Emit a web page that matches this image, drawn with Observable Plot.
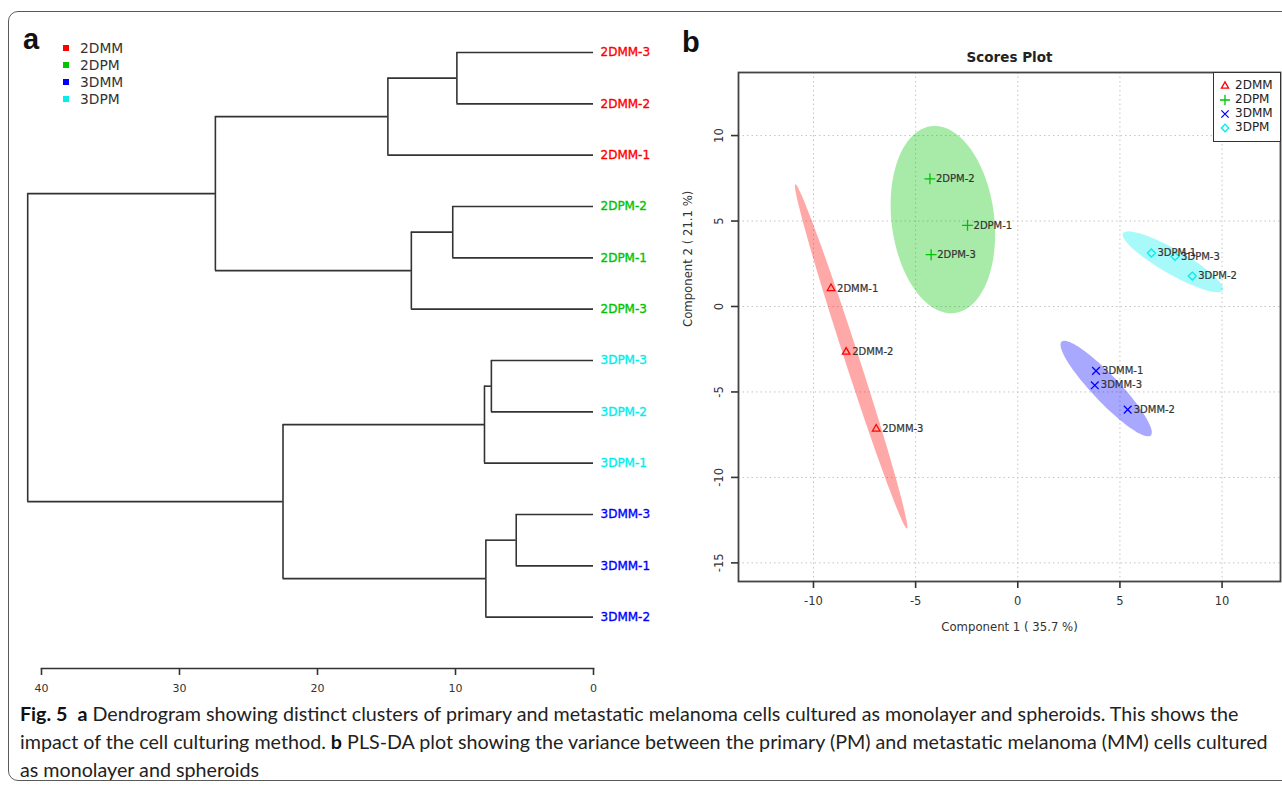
<!DOCTYPE html>
<html>
<head>
<meta charset="utf-8">
<script src="https://cdn.jsdelivr.net/npm/d3@7"></script>
<script src="https://cdn.jsdelivr.net/npm/@observablehq/plot@0.6"></script>
<style>
  html, body { margin: 0; padding: 0; background: #fff; }
  body { width: 1282px; height: 787px; overflow: hidden; position: relative; font-family: "DejaVu Sans", sans-serif; }
  #frame { position: absolute; left: 8px; top: 11px; width: 1300px; height: 770px; border: 1.5px solid #5a5a5a; border-radius: 10px; box-sizing: border-box; }
  .abs { position: absolute; }
  .plabel { position: absolute; font-family: "Liberation Sans", Arial, sans-serif; font-weight: bold; font-size: 29px; line-height: 28px; color: #111; }
  #legendA .item { position: absolute; left: 0; font-size: 13.8px; color: #333; line-height: 16px; white-space: nowrap; }
  #legendA .sw { position: absolute; width: 6px; height: 6px; }
  #legendB { position: absolute; left: 1213px; top: 72px; width: 68px; height: 70px; border: 1.5px solid #333; background: #fff; box-sizing: border-box; }
  #legendB .item { position: absolute; font-size: 12px; color: #222; line-height: 14px; white-space: nowrap; }
  #caption { position: absolute; left: 20px; top: 700px; font-family: Lato, "Noto Sans", sans-serif; font-size: 19.7px; line-height: 28px; color: #222; white-space: nowrap; }
  #caption b { color: #111; }
</style>
</head>
<body>
<div id="frame"></div>
<div id="panelA" class="abs" style="left:0px;top:0px"></div>
<div id="panelB" class="abs" style="left:660px;top:30px"></div>
<div class="plabel" style="left:23px;top:25px">a</div>
<div class="plabel" style="left:682px;top:28px">b</div>
<div id="legendA" class="abs" style="left:62px;top:40px"></div>
<div id="legendB"></div>
<div id="caption"><b>Fig. 5</b>&nbsp; <b>a</b> Dendrogram showing distinct clusters of primary and metastatic melanoma cells cultured as monolayer and spheroids. This shows the<br>impact of the cell culturing method. <b>b</b> PLS-DA plot showing the variance between the primary (PM) and metastatic melanoma (MM) cells cultured<br>as monolayer and spheroids</div>

<script>
// ---------- Data ----------
const groups = ["2DMM", "2DPM", "3DMM", "3DPM"];
const groupColors = ["#ff0000", "#00c400", "#0000ff", "#00eeee"];

// Dendrogram (panel a)
const leaves = ["2DMM-3", "2DMM-2", "2DMM-1", "2DPM-2", "2DPM-1", "2DPM-3",
                "3DPM-3", "3DPM-2", "3DPM-1", "3DMM-3", "3DMM-1", "3DMM-2"];
// merge i creates node "m{i+1}"
const mergeA = ["2DMM-3", "m1", "2DPM-2", "m3", "m2", "3DPM-3", "m6", "3DMM-3", "m8", "m7", "m5"];
const mergeB = ["2DMM-2", "2DMM-1", "2DPM-1", "2DPM-3", "m4", "3DPM-2", "3DPM-1", "3DMM-1", "3DMM-2", "m9", "m10"];
const mergeHeight = [9.9, 14.9, 10.2, 13.2, 27.4, 7.4, 7.9, 5.6, 7.8, 22.5, 41.0];
const dendroTicks = [40, 30, 20, 10, 0];

// Scores plot (panel b)
const sampleNames = ["2DMM-1", "2DMM-2", "2DMM-3", "2DPM-1", "2DPM-2", "2DPM-3",
                     "3DMM-1", "3DMM-2", "3DMM-3", "3DPM-1", "3DPM-2", "3DPM-3"];
const comp1 = [-9.14, -8.40, -6.93, -2.46, -4.30, -4.24, 3.83, 5.38, 3.77, 6.54, 8.54, 7.70];
const comp2 = [1.06, -2.66, -7.16, 4.75, 7.47, 3.03, -3.77, -6.03, -4.61, 3.13, 1.78, 2.93];
const scoreTicksX = [-10, -5, 0, 5, 10];
const scoreTicksY = [-15, -10, -5, 0, 5, 10];
const groupSymbols = ["triangle2", "plus", "times", "diamond2"];
const xLabel = "Component 1 ( 35.7 %)";
const yLabel = "Component 2 ( 21.1 %)";
const plotTitle = "Scores Plot";

const groupOf = name => name.slice(0, name.lastIndexOf("-"));

// ---------- Panel a: dendrogram ----------
const pos = {};
leaves.forEach((l, i) => pos[l] = {h: 0, y: i});
const verticals = [], horizontals = [];
mergeHeight.forEach((h, i) => {
  const a = pos[mergeA[i]], b = pos[mergeB[i]];
  pos["m" + (i + 1)] = {h, y: (a.y + b.y) / 2};
  verticals.push({x: h, y1: a.y, y2: b.y});
  horizontals.push({y: a.y, x1: h, x2: a.h});
  horizontals.push({y: b.y, x1: h, x2: b.h});
});
const leafData = leaves.map((name, i) => ({name, i, group: groupOf(name)}));

const dendro = Plot.plot({
  width: 660, height: 700,
  marginLeft: 41, marginRight: 67, marginTop: 52, marginBottom: 32,
  style: {background: "transparent", overflow: "visible", fontFamily: "DejaVu Sans, sans-serif"},
  x: {domain: [40, 0]},
  y: {domain: [0, 12], reverse: true, axis: null},
  color: {domain: groups, range: groupColors},
  marks: [
    Plot.ruleY(horizontals, {y: "y", x1: "x1", x2: "x2", stroke: "#333", strokeWidth: 1.6}),
    Plot.ruleX(verticals, {x: "x", y1: "y1", y2: "y2", stroke: "#333", strokeWidth: 1.6}),
    Plot.text(leafData, {x: () => 0, y: "i", text: "name", fill: "group", stroke: "group", strokeWidth: 0.35, dx: 7, textAnchor: "start", fontSize: 12}),
    Plot.frame({anchor: "bottom", stroke: "#333", strokeWidth: 1.6}),
    Plot.axisX({ticks: dendroTicks, tickSize: 7, tickPadding: 9, tickFormat: d => String(d), label: null, fontSize: 11, color: "#333", strokeWidth: 1.6})
  ]
});
document.getElementById("panelA").appendChild(dendro);

// legend a
const legA = document.getElementById("legendA");
groups.forEach((g, i) => {
  const sw = document.createElement("div");
  sw.className = "sw";
  sw.style.left = "1px";
  sw.style.top = (5 + i * 17) + "px";
  sw.style.background = groupColors[i];
  legA.appendChild(sw);
  const it = document.createElement("div");
  it.className = "item";
  it.style.left = "18px";
  it.style.top = (0 + i * 17) + "px";
  it.textContent = g;
  legA.appendChild(it);
});

// ---------- Panel b: scores plot ----------
const points = sampleNames.map((name, i) => ({name, group: groupOf(name), x: comp1[i], y: comp2[i]}));

// 95% confidence ellipse per group (as in R's ellipse package)
const tq = Math.sqrt(-2 * Math.log(1 - 0.95));
const ellipses = [];
groups.forEach(g => {
  const pts = points.filter(p => p.group === g);
  const n = pts.length;
  const mx = d3.mean(pts, p => p.x), my = d3.mean(pts, p => p.y);
  const vx = d3.sum(pts, p => (p.x - mx) ** 2) / (n - 1);
  const vy = d3.sum(pts, p => (p.y - my) ** 2) / (n - 1);
  const cxy = d3.sum(pts, p => (p.x - mx) * (p.y - my)) / (n - 1);
  const sx = Math.sqrt(vx), sy = Math.sqrt(vy);
  const r = Math.max(-1, Math.min(1, cxy / (sx * sy)));
  const d = Math.acos(r);
  for (let k = 0; k < 100; k++) {
    const a = 2 * Math.PI * k / 100;
    ellipses.push({group: g, x: tq * sx * Math.cos(a + d / 2) + mx, y: tq * sy * Math.cos(a - d / 2) + my});
  }
});

const scores = Plot.plot({
  width: 622, height: 620,
  marginLeft: 78, marginRight: 2, marginTop: 42, marginBottom: 69,
  style: {background: "transparent", overflow: "visible", fontFamily: "DejaVu Sans, sans-serif"},
  x: {domain: [-13.67, 12.86]},
  y: {domain: [-16.09, 13.69], axis: null},
  color: {domain: groups, range: groupColors},
  symbol: {domain: groups, range: groupSymbols},
  marks: [
    Plot.gridX(scoreTicksX, {stroke: "#c4c4c4", strokeOpacity: 1, strokeDasharray: "1.5,3"}),
    Plot.gridY(scoreTicksY, {stroke: "#c4c4c4", strokeOpacity: 1, strokeDasharray: "1.5,3"}),
    Plot.line(ellipses, {x: "x", y: "y", z: "group", fill: "group", fillOpacity: 0.34, stroke: "none", curve: "linear-closed"}),
    Plot.dot(points, {x: "x", y: "y", symbol: "group", stroke: "group", fill: "none", r: 3.6, strokeWidth: 1.3}),
    Plot.text(points, {x: "x", y: "y", text: "name", dx: 6, textAnchor: "start", fontSize: 10, fill: "#333", stroke: "#333", strokeWidth: 0.2}),
    Plot.frame({stroke: "#444", strokeWidth: 1.8}),
    Plot.axisX({ticks: scoreTicksX, tickSize: 7, tickPadding: 8, tickFormat: d => String(d), label: null, fontSize: 11.5, color: "#333", strokeWidth: 1.6}),
    Plot.axisY({ticks: scoreTicksY, tickSize: 7, tickFormat: () => "", label: null, color: "#333", strokeWidth: 1.6}),
    Plot.text(scoreTicksY, {y: d => d, frameAnchor: "left", dx: -19, rotate: -90, text: d => String(d), fontSize: 11.5, fill: "#333", textAnchor: "middle"}),
    Plot.text([xLabel], {frameAnchor: "bottom", dy: 49, fontSize: 11.7, fill: "#333"}),
    Plot.text([yLabel], {frameAnchor: "left", dx: -50, rotate: -90, fontSize: 11.7, fill: "#333"}),
    Plot.text([plotTitle], {frameAnchor: "top", dy: -20, fontSize: 13.5, fontWeight: "bold", fill: "#222"})
  ]
});
document.getElementById("panelB").appendChild(scores);

// legend b
const legB = document.getElementById("legendB");
const symTypes = [d3.symbolTriangle2, d3.symbolPlus, d3.symbolTimes, d3.symbolDiamond2];
groups.forEach((g, i) => {
  const yc = 13 + i * 14;
  const ns = "http://www.w3.org/2000/svg";
  const svg = document.createElementNS(ns, "svg");
  svg.setAttribute("width", 12); svg.setAttribute("height", 12);
  svg.style.position = "absolute";
  svg.style.left = "5px";
  svg.style.top = (yc - 6) + "px";
  const p = document.createElementNS(ns, "path");
  p.setAttribute("d", d3.symbol(symTypes[i], Math.PI * 3.4 * 3.4)());
  p.setAttribute("transform", "translate(6,6)");
  p.setAttribute("fill", "none");
  p.setAttribute("stroke", groupColors[i]);
  p.setAttribute("stroke-width", 1.3);
  svg.appendChild(p);
  legB.appendChild(svg);
  const it = document.createElement("div");
  it.className = "item";
  it.style.left = "21px";
  it.style.top = (yc - 8) + "px";
  it.textContent = g;
  legB.appendChild(it);
});
</script>
</body>
</html>
